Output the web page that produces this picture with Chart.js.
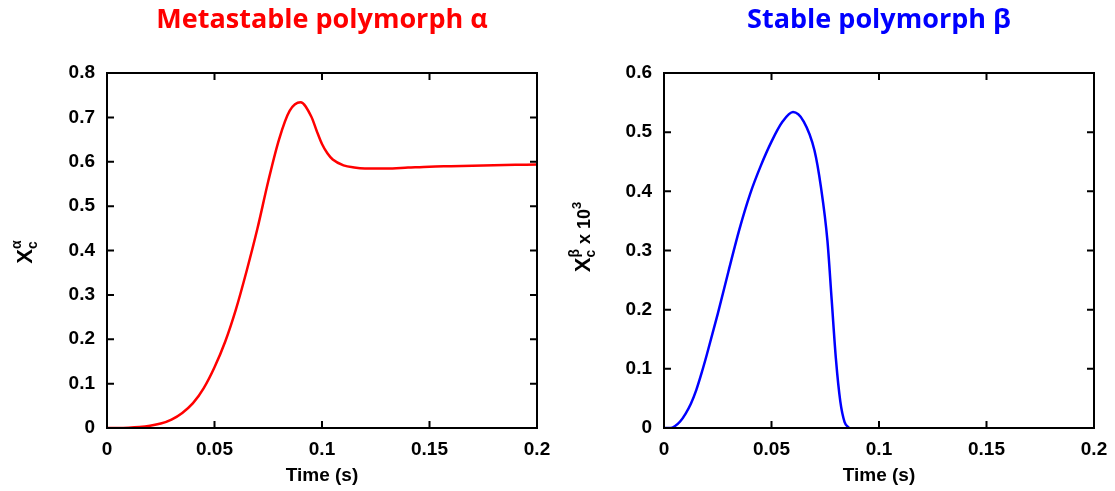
<!DOCTYPE html>
<html>
<head>
<meta charset="utf-8">
<script src="https://cdn.jsdelivr.net/npm/chart.js@4"></script>
<style>
  body { margin: 0; background: #fff; }
  .wrap { position: absolute; top: 0; width: 557px; height: 491px; }
</style>
</head>
<body>
<div class="wrap" style="left:0"><canvas id="alphaChart" width="557" height="491"></canvas></div>
<div class="wrap" style="left:557px"><canvas id="betaChart" width="557" height="491"></canvas></div>
<script>
// metastable polymorph alpha, X_c vs time
const alphaTime = [0, 0.005, 0.01, 0.015, 0.02, 0.025, 0.03, 0.035, 0.04, 0.045, 0.05, 0.055, 0.06, 0.065, 0.07,
  0.075, 0.08, 0.085, 0.09, 0.095, 0.0975, 0.1, 0.1025, 0.105, 0.11, 0.115, 0.12, 0.13, 0.14, 0.15, 0.16, 0.17, 0.18, 0.19, 0.2];
const alphaX = [0, 0, 0.0005, 0.002, 0.005, 0.01, 0.019, 0.034, 0.056, 0.09, 0.137, 0.195, 0.268, 0.355, 0.45,
  0.556, 0.65, 0.715, 0.734, 0.702, 0.67, 0.64, 0.619, 0.605, 0.592, 0.587, 0.585, 0.585, 0.587, 0.589, 0.59, 0.591, 0.592, 0.593, 0.594];

// stable polymorph beta, X_c x 10^3 vs time
const betaTime = [0, 0.003, 0.005, 0.0075, 0.01, 0.0125, 0.015, 0.0175, 0.02, 0.025, 0.03, 0.035, 0.04, 0.045, 0.05, 0.055,
  0.06, 0.065, 0.07, 0.073, 0.076, 0.078, 0.08, 0.082, 0.084, 0.086];
const betaX = [0, 0, 0.003, 0.011, 0.024, 0.041, 0.064, 0.093, 0.125, 0.193, 0.265, 0.335, 0.395, 0.443, 0.484, 0.517,
  0.534, 0.518, 0.469, 0.407, 0.317, 0.216, 0.115, 0.045, 0.01, 0];

const timeTicks = [0, 0.05, 0.1, 0.15, 0.2];
const alphaTicks = [0, 0.1, 0.2, 0.3, 0.4, 0.5, 0.6, 0.7, 0.8];
const betaTicks = [0, 0.1, 0.2, 0.3, 0.4, 0.5, 0.6];

const sansFamily = '"Liberation Sans", Arial, sans-serif';

// box round the plot with inward ticks on all four sides, plus the y title with sub/superscripts
function makeFrame(titleParts, baseX, centerY) {
  return {
    id: 'frame',
    afterDatasetsDraw(chart) {
      const { ctx, chartArea: a, scales: { x, y } } = chart;
      ctx.save();
      ctx.strokeStyle = '#000';
      ctx.lineWidth = 2;
      ctx.strokeRect(a.left, a.top, a.right - a.left, a.bottom - a.top);
      ctx.beginPath();
      x.ticks.forEach(t => {
        const px = x.getPixelForValue(t.value);
        ctx.moveTo(px, a.bottom); ctx.lineTo(px, a.bottom - 7);
        ctx.moveTo(px, a.top); ctx.lineTo(px, a.top + 7);
      });
      y.ticks.forEach(t => {
        const py = y.getPixelForValue(t.value);
        ctx.moveTo(a.left, py); ctx.lineTo(a.left + 7, py);
        ctx.moveTo(a.right, py); ctx.lineTo(a.right - 7, py);
      });
      ctx.stroke();

      // rich y title, rotated
      ctx.fillStyle = '#000';
      ctx.textBaseline = 'alphabetic';
      ctx.textAlign = 'left';
      let total = 0, last = 0;
      const placed = titleParts.map(p => {
        ctx.font = 'bold ' + p.size + 'px ' + sansFamily;
        const w = ctx.measureText(p.text).width;
        let pos;
        if (p.stack) {
          pos = total - last;
          last = Math.max(last, w);
          total = pos + last;
        } else {
          pos = total;
          last = w;
          total += w;
        }
        return { ...p, pos };
      });
      ctx.translate(baseX, centerY);
      ctx.rotate(-Math.PI / 2);
      placed.forEach(p => {
        ctx.font = 'bold ' + p.size + 'px ' + sansFamily;
        ctx.fillText(p.text, p.pos - total / 2, p.dy || 0);
      });
      ctx.restore();
    }
  };
}

function makeConfig(times, values, color, yTicks, yMax, title) {
  return {
    type: 'line',
    data: {
      datasets: [{
        data: times.map((t, i) => ({ x: t, y: values[i] })),
        borderColor: color,
        borderWidth: 2.5,
        pointRadius: 0,
        fill: false,
        cubicInterpolationMode: 'monotone'
      }]
    },
    options: {
      responsive: false,
      animation: false,
      layout: { padding: { left: 0, right: 20, top: 0, bottom: 0 } },
      plugins: {
        legend: { display: false },
        tooltip: { enabled: false },
        title: {
          display: true,
          text: title,
          color: color,
          fullSize: false,
          font: { family: '"Open Sans", sans-serif', size: 27, weight: 'bold', lineHeight: 1 },
          padding: { top: 7, bottom: 39 }
        }
      },
      scales: {
        x: {
          type: 'linear',
          min: 0,
          max: 0.2,
          afterBuildTicks: s => { s.ticks = timeTicks.map(v => ({ value: v })); },
          afterFit: s => { s.height = 63; s.paddingLeft = 0; s.paddingRight = 0; },
          grid: { display: false, drawTicks: false },
          border: { display: false },
          ticks: {
            color: '#000',
            font: { family: sansFamily, size: 19, weight: 'bold' },
            padding: 10,
            maxRotation: 0,
            autoSkip: false,
            callback: v => String(v)
          },
          title: {
            display: true,
            text: 'Time (s)',
            color: '#000',
            font: { family: sansFamily, size: 19, weight: 'bold' },
            padding: { top: 4, bottom: 4 }
          }
        },
        y: {
          min: 0,
          max: yMax,
          afterBuildTicks: s => { s.ticks = yTicks.map(v => ({ value: v })); },
          afterFit: s => { s.width = 107; },
          grid: { display: false, drawTicks: false },
          border: { display: false },
          ticks: {
            color: '#000',
            font: { family: sansFamily, size: 19, weight: 'bold' },
            padding: 12,
            callback: v => String(v)
          }
        }
      }
    }
  };
}

const alphaConfig = makeConfig(alphaTime, alphaX, '#ff0000', alphaTicks, 0.8, 'Metastable polymorph \u03b1');
alphaConfig.plugins = [makeFrame([
  { text: 'X', size: 22 },
  { text: 'c', size: 14, dy: 5 },
  { text: '\u03b1', size: 14, dy: -11, stack: true }
], 32, 252)];

const betaConfig = makeConfig(betaTime, betaX, '#0000ff', betaTicks, 0.6, 'Stable polymorph \u03b2');
betaConfig.plugins = [makeFrame([
  { text: 'X', size: 22 },
  { text: 'c', size: 14, dy: 5 },
  { text: '\u03b2', size: 14, dy: -11, stack: true },
  { text: ' x 10', size: 18 },
  { text: '3', size: 13, dy: -9 }
], 33, 237)];

const alphaChart = new Chart(document.getElementById('alphaChart'), alphaConfig);
const betaChart = new Chart(document.getElementById('betaChart'), betaConfig);
</script>
</body>
</html>
